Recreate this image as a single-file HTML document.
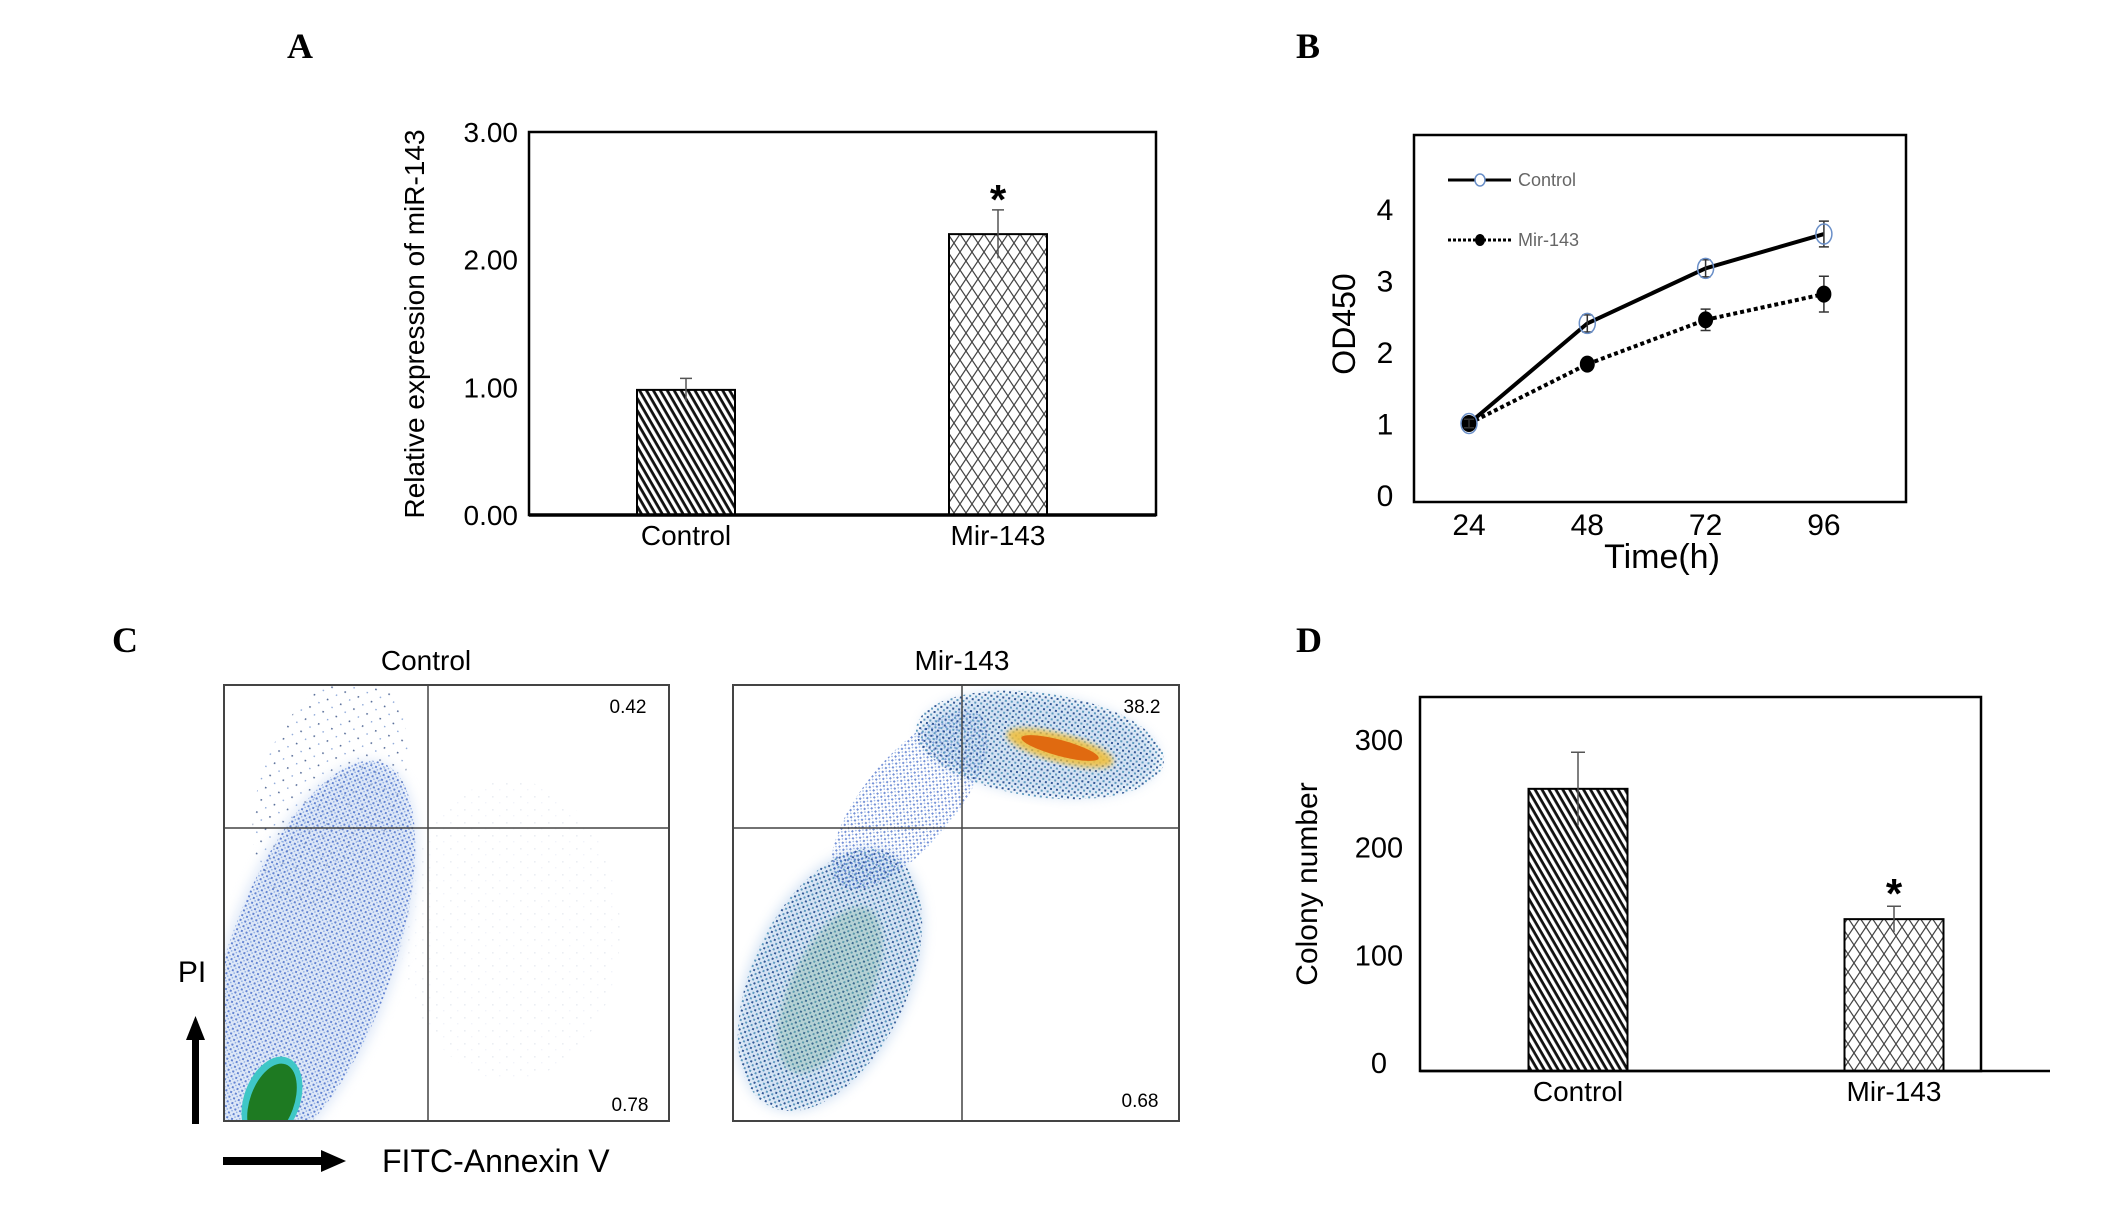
<!DOCTYPE html>
<html><head><meta charset="utf-8">
<style>
html,body{margin:0;padding:0;background:#fff;}
svg{display:block;}
text{font-family:"Liberation Sans Narrow","Liberation Sans",sans-serif;}
.ser{font-family:"Liberation Serif",serif;font-weight:bold;}
</style></head>
<body>
<svg id="fig" width="2126" height="1215" viewBox="0 0 2126 1215" xmlns="http://www.w3.org/2000/svg">
<defs>
<pattern id="hatchC" width="6" height="6" patternUnits="userSpaceOnUse" patternTransform="rotate(60)">
<rect width="6" height="6" fill="#fff"/><rect width="6" height="2.8" fill="#111"/>
</pattern>
<pattern id="hatchM" width="12" height="18" patternUnits="userSpaceOnUse">
<rect width="12" height="18" fill="#fff"/>
<path d="M0,0 L12,18 M12,0 L0,18 M-6,9 L0,18 M6,-9 L12,0 M18,9 L12,18 M6,27 L0,18" stroke="#444" stroke-width="1.2" fill="none"/>
</pattern>
<pattern id="dots" width="5" height="5" patternUnits="userSpaceOnUse">
<rect x="0" y="0" width="2" height="2" fill="#3a62c4"/>
<rect x="2.5" y="2.5" width="1.5" height="1.5" fill="#7aa0e0"/>
</pattern>
<pattern id="dotsDark" width="6" height="6" patternUnits="userSpaceOnUse">
<rect x="0" y="0" width="2" height="2" fill="#1f4a8c"/>
<rect x="3" y="3" width="2" height="2" fill="#4f8fb8"/>
</pattern>
<pattern id="sparse" width="14" height="13" patternUnits="userSpaceOnUse">
<rect x="2" y="3" width="1.6" height="1.6" fill="#5a6f9a"/>
<rect x="9" y="9" width="1.4" height="1.4" fill="#8aa6d8"/>
</pattern>
<filter id="soft"><feGaussianBlur stdDeviation="6"/></filter>
<filter id="soft2"><feGaussianBlur stdDeviation="3"/></filter>
</defs>

<text class="ser" x="287" y="58" font-size="36">A</text>
<text class="ser" x="1296" y="58" font-size="36">B</text>
<text class="ser" x="112" y="652" font-size="36">C</text>
<text class="ser" x="1296" y="652" font-size="36">D</text>

<g id="panelA"></g>
<g id="panelB"></g>
<g id="panelD"></g>

<g>
<text x="426" y="670" font-size="28" text-anchor="middle">Control</text>
<text x="962" y="670" font-size="28" text-anchor="middle">Mir-143</text>
<g>
<clipPath id="clipL"><rect x="224" y="685" width="445" height="436"/></clipPath>
<g clip-path="url(#clipL)">
<ellipse cx="330" cy="790" rx="70" ry="120" fill="url(#sparse)" transform="rotate(20 330 790)"/>
<ellipse cx="310" cy="960" rx="85" ry="210" fill="#bcd0f0" opacity="0.5" filter="url(#soft)" transform="rotate(20 310 960)"/>
<ellipse cx="310" cy="960" rx="82" ry="210" fill="url(#dots)" opacity="0.75" transform="rotate(20 310 960)"/>
<ellipse cx="510" cy="930" rx="110" ry="150" fill="url(#sparse)" opacity="0.12"/>
<ellipse cx="272" cy="1100" rx="28" ry="45" fill="#3fc7c7" transform="rotate(20 272 1100)"/>
<ellipse cx="272" cy="1102" rx="22" ry="40" fill="#1e7a22" transform="rotate(20 272 1102)"/>
</g>
<rect x="224" y="685" width="445" height="436" fill="none" stroke="#444" stroke-width="2"/>
<line x1="428" y1="685" x2="428" y2="1121" stroke="#444" stroke-width="1.5"/>
<line x1="224" y1="828" x2="669" y2="828" stroke="#444" stroke-width="1.5"/>
<text x="628" y="713" font-family="Liberation Serif" font-size="19" text-anchor="middle">0.42</text>
<text x="630" y="1111" font-family="Liberation Serif" font-size="19" text-anchor="middle">0.78</text>
</g>
<g>
<clipPath id="clipR"><rect x="733" y="685" width="446" height="436"/></clipPath>
<g clip-path="url(#clipR)">
<ellipse cx="830" cy="980" rx="80" ry="140" fill="#9fc0e6" opacity="0.45" filter="url(#soft)" transform="rotate(25 830 980)"/>
<ellipse cx="830" cy="980" rx="78" ry="140" fill="url(#dotsDark)" opacity="0.9" transform="rotate(25 830 980)"/>
<ellipse cx="830" cy="990" rx="40" ry="90" fill="#5aa07a" opacity="0.25" filter="url(#soft2)" transform="rotate(25 830 990)"/>
<ellipse cx="910" cy="800" rx="45" ry="110" fill="url(#dots)" opacity="0.7" transform="rotate(40 910 800)"/>
<ellipse cx="1040" cy="745" rx="120" ry="50" fill="#9fc0e6" opacity="0.45" filter="url(#soft)" transform="rotate(8 1040 745)"/>
<ellipse cx="1040" cy="745" rx="125" ry="52" fill="url(#dotsDark)" opacity="0.9" transform="rotate(8 1040 745)"/>
<ellipse cx="1060" cy="748" rx="55" ry="14" fill="#f0c040" opacity="0.9" filter="url(#soft2)" transform="rotate(15 1060 748)"/>
<ellipse cx="1060" cy="748" rx="40" ry="8" fill="#e06a10" transform="rotate(15 1060 748)"/>
</g>
<rect x="733" y="685" width="446" height="436" fill="none" stroke="#444" stroke-width="2"/>
<line x1="962" y1="685" x2="962" y2="1121" stroke="#444" stroke-width="1.5"/>
<line x1="733" y1="828" x2="1179" y2="828" stroke="#444" stroke-width="1.5"/>
<text x="1142" y="713" font-family="Liberation Serif" font-size="19" text-anchor="middle">38.2</text>
<text x="1140" y="1107" font-family="Liberation Serif" font-size="19" text-anchor="middle">0.68</text>
</g>
<text x="192" y="982" font-size="30" text-anchor="middle">PI</text>
<g>
<rect x="192" y="1038" width="7" height="86" fill="#000"/>
<polygon points="186,1040 205,1040 195.5,1016" fill="#000"/>
</g>
<g>
<rect x="223" y="1157" width="100" height="8" fill="#000"/>
<polygon points="321,1150 321,1172 346,1161" fill="#000"/>
</g>
<text x="382" y="1172" font-size="32">FITC-Annexin V</text>
</g>
</svg>

<script>
var aCategories=['Control','Mir-143'];
var aValues=[0.98,2.2];
var aErrors=[0.09,0.19];
var aTicks=[0,1,2,3];
var aTickLabels=['0.00','1.00','2.00','3.00'];
var aSignificant=[false,true];

var bTimes=[24,48,72,96];
var bTickLabels=['24','48','72','96'];
var bControl=[1.0,2.4,3.17,3.65];
var bControlErr=[0.06,0.12,0.12,0.18];
var bMir=[1.0,1.83,2.45,2.81];
var bMirErr=[0.06,0.08,0.15,0.25];
var bYTicks=[0,1,2,3,4];

var dCategories=['Control','Mir-143'];
var dValues=[262,141];
var dErrors=[34,12];
var dTicks=[0,100,200,300];
var dSignificant=[false,true];

var NS='http://www.w3.org/2000/svg';
function mk(parent,tag,attrs,txt){var e=document.createElementNS(NS,tag);for(var k in attrs)e.setAttribute(k,attrs[k]);if(txt!==undefined)e.textContent=txt;parent.appendChild(e);return e;}

(function(){
  var g=document.getElementById('panelA');
  var L=529,R=1156,T=132,B=515;
  var y=function(v){return B-(v/3)*(B-T);};
  var xc=[686,998], bw=98;
  for(var i=0;i<aTicks.length;i++){
    var t=mk(g,'text',{x:518,y:y(aTicks[i])+10,'font-size':28,'text-anchor':'end'},aTickLabels[i]);
    
    
  }
  var yt=mk(g,'text',{x:0,y:0,'font-size':28,'text-anchor':'middle',transform:'translate(424,324) rotate(-90)','font-family':'Liberation Sans'},'Relative expression of miR-143');
  
  
  for(var i=0;i<aValues.length;i++){
    var r=mk(g,'rect',{x:xc[i]-bw/2,y:y(aValues[i]),width:bw,height:B-y(aValues[i]),fill:i==0?'url(#hatchC)':'url(#hatchM)',stroke:'#000','stroke-width':2});
    
    
    var eb=mk(g,'path',{d:'M'+xc[i]+','+y(aValues[i]-aErrors[i])+'V'+y(aValues[i]+aErrors[i])+'M'+(xc[i]-6)+','+y(aValues[i]+aErrors[i])+'H'+(xc[i]+6),stroke:'#555','stroke-width':1.5,fill:'none'});
    
    
    var xl=mk(g,'text',{x:xc[i],y:545,'font-size':28,'text-anchor':'middle'},aCategories[i]);
    
    
    if(aSignificant[i]){
      var s=mk(g,'text',{x:xc[i],y:y(aValues[i]+aErrors[i])+4,'font-size':42,'font-weight':'bold','text-anchor':'middle','font-family':'Liberation Sans'},'*');
      
      
    }
  }
  var fr=mk(g,'rect',{x:L,y:T,width:R-L,height:B-T,fill:'none',stroke:'#000','stroke-width':2.5});
  
  
  mk(g,'line',{x1:L,y1:B,x2:R,y2:B,stroke:'#000','stroke-width':3.5});
})();

(function(){
  var g=document.getElementById('panelB');
  var L=1414,R=1906,T=135,B=502;
  var y=function(v){return 495-71.5*v;};
  var x=function(t){return 1469+(t-24)/24*118.3;};
  for(var i=0;i<bYTicks.length;i++){
    var t=mk(g,'text',{x:1385,y:y(bYTicks[i])+11,'font-size':30,'text-anchor':'middle'},String(bYTicks[i]));
    
    
  }
  for(var i=0;i<bTimes.length;i++){
    var t=mk(g,'text',{x:x(bTimes[i]),y:535,'font-size':30,'text-anchor':'middle'},bTickLabels[i]);
    
    
  }
  var xt=mk(g,'text',{x:1662,y:568,'font-size':34,'text-anchor':'middle'},'Time(h)');
  
  
  var yt=mk(g,'text',{x:0,y:0,'font-size':32,'text-anchor':'middle',transform:'translate(1355,324) rotate(-90)','font-family':'Liberation Sans'},'OD450');
  
  
  var fr=mk(g,'rect',{x:L,y:T,width:R-L,height:B-T,fill:'none',stroke:'#000','stroke-width':2.5});
  
  
  function series(vals,errs,dash,name,open){
    var d='';
    for(var i=0;i<vals.length;i++)d+=(i?'L':'M')+x(bTimes[i])+','+y(vals[i]);
    var p=mk(g,'path',{d:d,fill:'none',stroke:'#000','stroke-width':4,'stroke-dasharray':dash});
    
    
    for(var i=0;i<vals.length;i++){
      var cx=x(bTimes[i]);
      var eb=mk(g,'path',{d:'M'+cx+','+y(vals[i]-errs[i])+'V'+y(vals[i]+errs[i])+'M'+(cx-5)+','+y(vals[i]-errs[i])+'H'+(cx+5)+'M'+(cx-5)+','+y(vals[i]+errs[i])+'H'+(cx+5),stroke:'#333','stroke-width':1.5,fill:'none'});
      
      
      var c=mk(g,'ellipse',{cx:cx,cy:y(vals[i]),rx:open?8:7,ry:open?10:8,fill:open?'none':'#000',stroke:open?'#6a8fc8':'#000','stroke-width':open?1.5:1});
      
      
    }
  }
  series(bMir,bMirErr,'4 3','mir143',false);
  series(bControl,bControlErr,'none','control',true);
  var lg=mk(g,'g',{});
  
  
  mk(lg,'line',{x1:1448,y1:180,x2:1511,y2:180,stroke:'#000','stroke-width':3});
  mk(lg,'ellipse',{cx:1480,cy:180,rx:5,ry:6,fill:'#fff',stroke:'#6a8fc8','stroke-width':1.5});
  var l1=mk(lg,'text',{x:1518,y:186,'font-size':18,fill:'#666'},'Control');
  
  
  mk(lg,'line',{x1:1448,y1:240,x2:1511,y2:240,stroke:'#000','stroke-width':3,'stroke-dasharray':'3 2'});
  mk(lg,'ellipse',{cx:1480,cy:240,rx:5,ry:6,fill:'#000'});
  var l2=mk(lg,'text',{x:1518,y:246,'font-size':18,fill:'#666'},'Mir-143');
  
  
})();

(function(){
  var g=document.getElementById('panelD');
  var L=1420,R=1981,T=697,B=1071;
  var y=function(v){return B-v*1.077;};
  var xc=[1578,1894], bw=99;
  for(var i=0;i<dTicks.length;i++){
    var t=mk(g,'text',{x:1379,y:y(dTicks[i])+2,'font-size':29,'text-anchor':'middle'},String(dTicks[i]));
    
    
  }
  var yt=mk(g,'text',{x:0,y:0,'font-size':30,'text-anchor':'middle',transform:'translate(1317,884) rotate(-90)','font-family':'Liberation Sans'},'Colony number');
  
  
  for(var i=0;i<dValues.length;i++){
    var r=mk(g,'rect',{x:xc[i]-bw/2,y:y(dValues[i]),width:bw,height:B-y(dValues[i]),fill:i==0?'url(#hatchC)':'url(#hatchM)',stroke:'#000','stroke-width':2});
    
    
    var eb=mk(g,'path',{d:'M'+xc[i]+','+y(dValues[i]-dErrors[i])+'V'+y(dValues[i]+dErrors[i])+'M'+(xc[i]-7)+','+y(dValues[i]+dErrors[i])+'H'+(xc[i]+7),stroke:'#555','stroke-width':1.5,fill:'none'});
    
    
    var xl=mk(g,'text',{x:xc[i],y:1101,'font-size':28,'text-anchor':'middle'},dCategories[i]);
    
    
    if(dSignificant[i]){
      var s=mk(g,'text',{x:xc[i],y:y(dValues[i]+dErrors[i])+2,'font-size':42,'font-weight':'bold','text-anchor':'middle','font-family':'Liberation Sans'},'*');
      
      
    }
  }
  var fr=mk(g,'rect',{x:L,y:T,width:R-L,height:B-T,fill:'none',stroke:'#000','stroke-width':2.5});
  
  
  mk(g,'line',{x1:L,y1:B,x2:2050,y2:B,stroke:'#000','stroke-width':2.5});
})();
</script>
</body></html>
